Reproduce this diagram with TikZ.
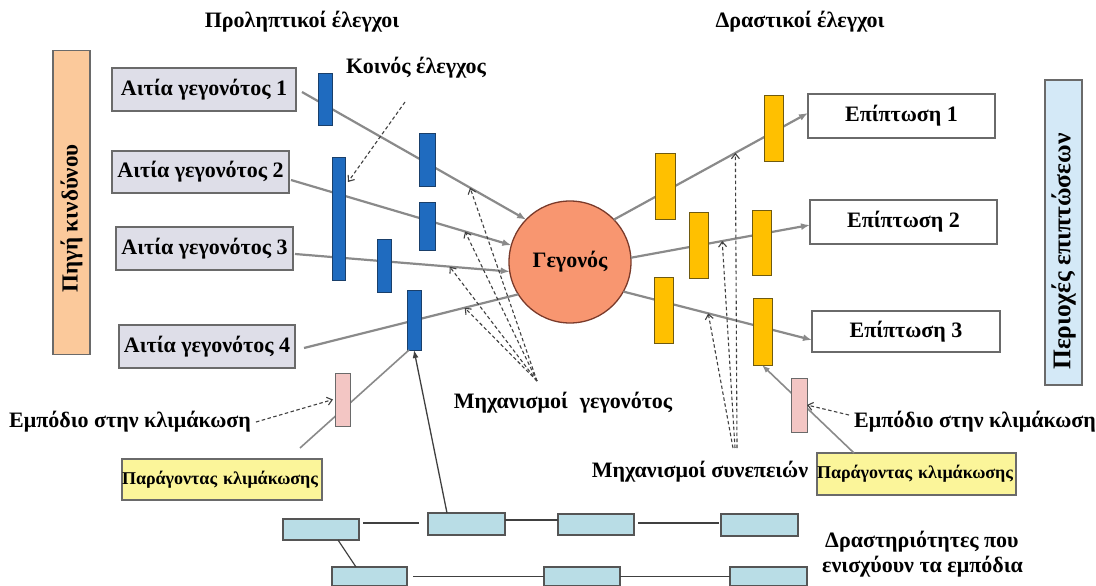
\documentclass[tikz,border=0pt]{standalone}
\usepackage{fontspec}
\setmainfont{Liberation Serif}
\usetikzlibrary{arrows.meta,calc}
\definecolor{bluebar}{HTML}{1F6BBF}
\definecolor{blueedge}{HTML}{1A3F6A}
\definecolor{orangebar}{HTML}{FFC000}
\definecolor{orangeedge}{HTML}{6F5A10}
\definecolor{eventfill}{HTML}{F89670}
\definecolor{eventedge}{HTML}{7A3A2A}
\definecolor{causefill}{HTML}{DEDEE8}
\definecolor{peach}{HTML}{FBC99B}
\definecolor{lightblue}{HTML}{D4E9F7}
\definecolor{pinkbar}{HTML}{F3C6C4}
\definecolor{yellowbox}{HTML}{FBF59A}
\definecolor{actfill}{HTML}{B9DDE6}
\definecolor{flowgray}{HTML}{8A8A8A}
\definecolor{edgegray}{HTML}{6A6A6A}
\newcommand\fLab{\fontsize{22}{25}\selectfont\bfseries}
\newcommand\fTitle{\fontsize{22}{24}\selectfont\bfseries}
\newcommand\fSideA{\fontsize{23}{25}\selectfont\bfseries}
\newcommand\fSideB{\fontsize{25.5}{27}\selectfont\bfseries}
\newcommand\fSmall{\fontsize{18}{20}\selectfont\bfseries}
\begin{document}
\begin{tikzpicture}[x=1pt,y=-1pt,
  cause/.style={draw=edgegray, line width=1.5pt, fill=causefill, inner sep=0pt, outer sep=0pt, font=\fLab},
  effect/.style={draw=edgegray, line width=1.5pt, fill=white, inner sep=0pt, outer sep=0pt, font=\fLab},
  sidebox/.style={draw=edgegray, line width=1.5pt, inner sep=0pt, outer sep=0pt},
  sidetext/.style={rotate=90, inner sep=0pt},
  bbar/.style={draw=blueedge, line width=0.9pt, fill=bluebar, inner sep=0pt, outer sep=0pt},
  obar/.style={draw=orangeedge, line width=0.9pt, fill=orangebar, inner sep=0pt, outer sep=0pt},
  pbar/.style={draw=edgegray, line width=0.9pt, fill=pinkbar, inner sep=0pt, outer sep=0pt},
  ybox/.style={draw=edgegray, line width=1.5pt, fill=yellowbox, inner sep=0pt, outer sep=0pt, font=\fSmall, align=left},
  act/.style={draw=edgegray!80!black, line width=1.3pt, fill=actfill, inner sep=0pt, outer sep=0pt},
  lab/.style={font=\fLab, inner sep=0pt},
  flow/.style={draw=flowgray, line width=2.2pt},
  flowtip/.style={flow, -{Latex[length=9pt,width=7pt]}},
  dasharrow/.style={draw=black!75, line width=1.1pt, dash pattern=on 3.5pt off 2.5pt, -{Straight Barb[length=5pt,width=8pt]}},
  link/.style={draw=black!75, line width=1.2pt}
]
\useasboundingbox (0,0) rectangle (1096,586);

% titles
\node[lab, font=\fTitle] (t1) at (302,22) {Προληπτικοί έλεγχοι};
\node[lab, font=\fTitle] (t2) at (800,22) {Δραστικοί έλεγχοι};

% side boxes
\node[sidebox, fill=peach, minimum width=37pt, minimum height=304pt] (src) at (71.5,202.5) {};
\node[sidetext, font=\fSideA] (srctxt) at ([yshift=-16pt]src.center) {Πηγή κινδύνου};
\node[sidebox, fill=lightblue, minimum width=37pt, minimum height=305pt] (area) at (1063.5,232.5) {};
\node[sidetext, font=\fSideB] (areatxt) at ([yshift=-19pt]area.center) {Περιοχές επιπτώσεων};

% cause boxes
\node[cause, minimum width=184pt, minimum height=43pt] (c1) at (204,89.5) {Αιτία γεγονότος 1};
\node[cause, minimum width=177pt, minimum height=42pt] (c2) at (200.5,172) {Αιτία γεγονότος 2};
\node[cause, minimum width=177pt, minimum height=43pt] (c3) at (204.5,248.5) {Αιτία γεγονότος 3};
\node[cause, minimum width=176pt, minimum height=43pt] (c4) at (207,346.5) {Αιτία γεγονότος 4};

% effect boxes
\node[effect, minimum width=187pt, minimum height=44pt] (e1) at (901.5,116) {Επίπτωση 1};
\node[effect, minimum width=187pt, minimum height=44pt] (e2) at (903.5,222) {Επίπτωση 2};
\node[effect, minimum width=188pt, minimum height=41pt] (e3) at (906,331.5) {Επίπτωση 3};

% event
\node[circle, draw=eventedge, line width=1.3pt, fill=eventfill, minimum size=122pt, inner sep=0pt, outer sep=0pt, font=\fLab] (ev) at (570,262) {Γεγονός};

% flows left (drawn before bars)
\coordinate (c1s) at ([xshift=6pt,yshift=-2.5pt]c1.east);
\coordinate (c2s) at ([xshift=2pt,yshift=-8pt]c2.east);
\coordinate (c3s) at ([xshift=2pt,yshift=-5.5pt]c3.east);
\coordinate (c4s) at ([xshift=9pt,yshift=-1.5pt]c4.east);
\draw[flowtip] (c1s) -- coordinate[pos=0.75] (m1) (ev.136);
\draw[flowtip] (c2s) -- coordinate[pos=0.79] (m2) (ev.164);
\draw[flowtip] (c3s) -- coordinate[pos=0.72] (m3) (ev.189);
\draw[flow] (c4s) -- coordinate[pos=0.75] (m4) (ev.212);

% flows right
\draw[flowtip] (ev.44) -- coordinate[pos=0.626] (n1) ([yshift=3pt]e1.west);
\draw[flowtip] (ev.4) -- coordinate[pos=0.51] (n2) ([yshift=-3pt]e2.west);
\draw[flowtip] (ev.331) -- coordinate[pos=0.45] (n3) ([yshift=-8.5pt]e3.west);

% blue bars
\node[bbar, minimum width=14pt, minimum height=52pt] (b1) at (325,99) {};
\node[bbar, minimum width=13pt, minimum height=123pt] (b2) at (338.5,218.5) {};
\node[bbar, minimum width=16pt, minimum height=53pt] (b3) at (427,159.5) {};
\node[bbar, minimum width=16pt, minimum height=48pt] (b4) at (427,226) {};
\node[bbar, minimum width=14pt, minimum height=53pt] (b5) at (384,265.5) {};
\node[bbar, minimum width=14pt, minimum height=60pt] (b6) at (414,320) {};

% orange bars
\node[obar, minimum width=20pt, minimum height=66pt] (o1) at (665,186) {};
\node[obar, minimum width=19pt, minimum height=66pt] (o2) at (698.5,245) {};
\node[obar, minimum width=19pt, minimum height=66pt] (o3) at (663.5,310) {};
\node[obar, minimum width=19pt, minimum height=66pt] (o4) at (773.5,128) {};
\node[obar, minimum width=19pt, minimum height=65pt] (o5) at (761.5,242.5) {};
\node[obar, minimum width=19pt, minimum height=67pt] (o6) at (762.5,331.5) {};

% yellow boxes
\node[ybox, minimum width=200pt, minimum height=41pt, text width=200pt] (yl) at (222,479.5) {Παράγοντας κλιμάκωσης};
\node[ybox, minimum width=199pt, minimum height=42pt, text width=199pt] (yr) at (916.5,474) {Παράγοντας κλιμάκωσης};

% escalation lines
\coordinate (ylt) at (300,448);
\draw[flow, line width=1.6pt] (ylt) -- ([xshift=-5pt]b6.south);
\draw[flow, line width=1.6pt, -{Latex[length=8pt,width=6pt]}] ([xshift=-62.5pt]yr.north) -- ([xshift=-0.5pt]o6.south);

% pink bars
\node[pbar, minimum width=15pt, minimum height=53pt] (pl) at (342.5,399.5) {};
\node[pbar, minimum width=16pt, minimum height=54pt] (pr) at (799,405) {};

% labels
\node[lab] (kl) at (416,68) {Κοινός έλεγχος};
\node[lab] (el) at (130,422) {Εμπόδιο στην κλιμάκωση};
\node[lab] (er) at (975,422) {Εμπόδιο στην κλιμάκωση};
\node[lab] (mg) at (563,403) {Μηχανισμοί\hspace{0.3em} γεγονότος};
\node[lab] (ms) at (700,472) {Μηχανισμοί συνεπειών};
\node[lab, align=left, anchor=west] (da) at (822,554.5) {\hspace{3pt}Δραστηριότητες που\\ενισχύουν τα εμπόδια};

% dashed arrows
\coordinate (kls) at (405,102);
\draw[dasharrow] (kls) -- ([xshift=3pt,yshift=36.5pt]b2.east);
\coordinate (mgs) at (537,381);
\draw[dasharrow] (mgs) -- (m1);
\draw[dasharrow] (mgs) -- (m2);
\draw[dasharrow] (mgs) -- (m3);
\draw[dasharrow] (mgs) -- (m4);
\coordinate (mss) at (737,448);
\draw[dasharrow] (mss) -- (n1);
\draw[dasharrow] ([xshift=-2pt]mss) -- (n2);
\draw[dasharrow] ([xshift=-4pt]mss) -- (n3);
\draw[dasharrow] ([xshift=5pt]el.east) -- ([xshift=-2pt]pl.west);
\draw[dasharrow] ([xshift=-5pt,yshift=7pt]er.west) -- ([xshift=0pt]pr.east);

% activity boxes
\node[act, minimum width=76pt, minimum height=21pt] (a1) at (321,529.5) {};
\node[act, minimum width=77pt, minimum height=22pt] (a2) at (466.5,524) {};
\node[act, minimum width=76pt, minimum height=21pt] (a3) at (596,524.5) {};
\node[act, minimum width=77pt, minimum height=22pt] (a4) at (759.5,525) {};
\node[act, minimum width=75pt, minimum height=19pt] (d1) at (369.5,576.5) {};
\node[act, minimum width=76pt, minimum height=19pt] (d2) at (582,576.5) {};
\node[act, minimum width=77pt, minimum height=19pt] (d3) at (768.5,576.5) {};

\draw[link] ([xshift=4pt,yshift=6.5pt]a1.east) -- ([xshift=-9pt,yshift=1pt]a2.west);
\draw[link] ([yshift=4pt]a2.east) -- ([yshift=4.5pt]a3.west);
\draw[link] ([xshift=4pt,yshift=1.5pt]a3.east) -- ([xshift=-2pt,yshift=2pt]a4.west);
\draw[link] ([xshift=17pt]a1.south) -- ([xshift=-13.5pt]d1.north);
\draw[link, line width=0.8pt] ([xshift=6pt]d1.east) -- (d2.west);
\draw[link, line width=0.8pt] (d2.east) -- (d3.west);
\draw[link, line width=1.3pt, -{Latex[length=8pt,width=6pt]}] ([xshift=-19.5pt]a2.north) -- (b6.south);

\end{tikzpicture}
\end{document}
